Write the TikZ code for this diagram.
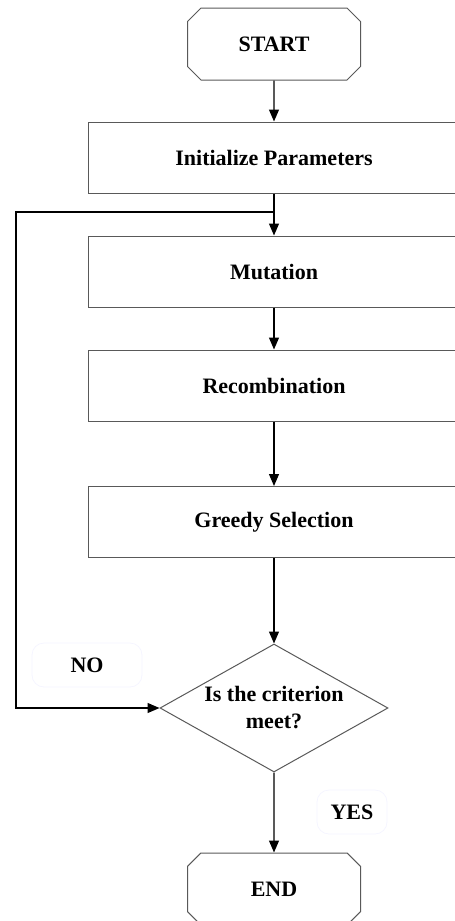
\documentclass[tikz,border=0pt]{standalone}
\usepackage{fontspec}
\setmainfont{Liberation Serif}
\usetikzlibrary{shapes.geometric,shapes.misc,arrows.meta}

\begin{document}
\begin{tikzpicture}[x=0.5pt,y=-0.5pt,
        every node/.style={font=\fontsize{11}{13.5}\selectfont\bfseries},
        procbox/.style={draw=black!65,line width=0.5pt,minimum width=186pt,minimum height=35.5pt,inner sep=0pt},
        termbox/.style={chamfered rectangle,chamfered rectangle xsep=8pt,draw=black!65,line width=0.5pt,minimum width=86.5pt,minimum height=36pt,inner sep=0pt},
        testbox/.style={diamond,aspect=1.78,draw=black!65,line width=0.5pt,minimum width=114pt,minimum height=64pt,inner sep=0pt,align=center},
        flowarrow/.style={draw=black,line width=0.6pt,-{Triangle[length=6pt,width=5pt]}}]
        \useasboundingbox (0,0) rectangle (455,921);

        % Start and the four steps
        \node[termbox] (start) at (274,44) {START};
        \node[procbox] (init) at (274,157.5) {Initialize Parameters};
        \node[procbox] (mutation) at (274,271.5) {Mutation};
        \node[procbox] (recomb) at (274,385.5) {Recombination};
        \node[procbox] (greedy) at (274,522) {Greedy Selection};

        % Test and end
        \node[testbox] (crit) at (274,708) {Is the criterion\\meet?};
        \node[termbox] (stop) at (274,889) {END};

        % Branch labels
        \node[draw=blue!4,rounded corners=6pt,minimum width=55pt,minimum height=22pt] (no) at (87,665) {NO};
        \node[draw=blue!4,rounded corners=6pt,minimum width=35pt,minimum height=22pt] (yes) at (352,812) {YES};

        % Loop back point
        \coordinate (join) at (274,212);
        \coordinate (loopa) at (16,212);

        \draw[flowarrow] (start) -- (init);
        \draw[flowarrow] (init) -- (mutation);
        \draw[flowarrow] (mutation) -- (recomb);
        \draw[flowarrow] (recomb) -- (greedy);
        \draw[flowarrow] (greedy) -- (crit);
        \draw[flowarrow] (crit) -- (stop);
        \draw[flowarrow] (join) -- (loopa) |- (crit.west);

    \end{tikzpicture}
\end{document}
